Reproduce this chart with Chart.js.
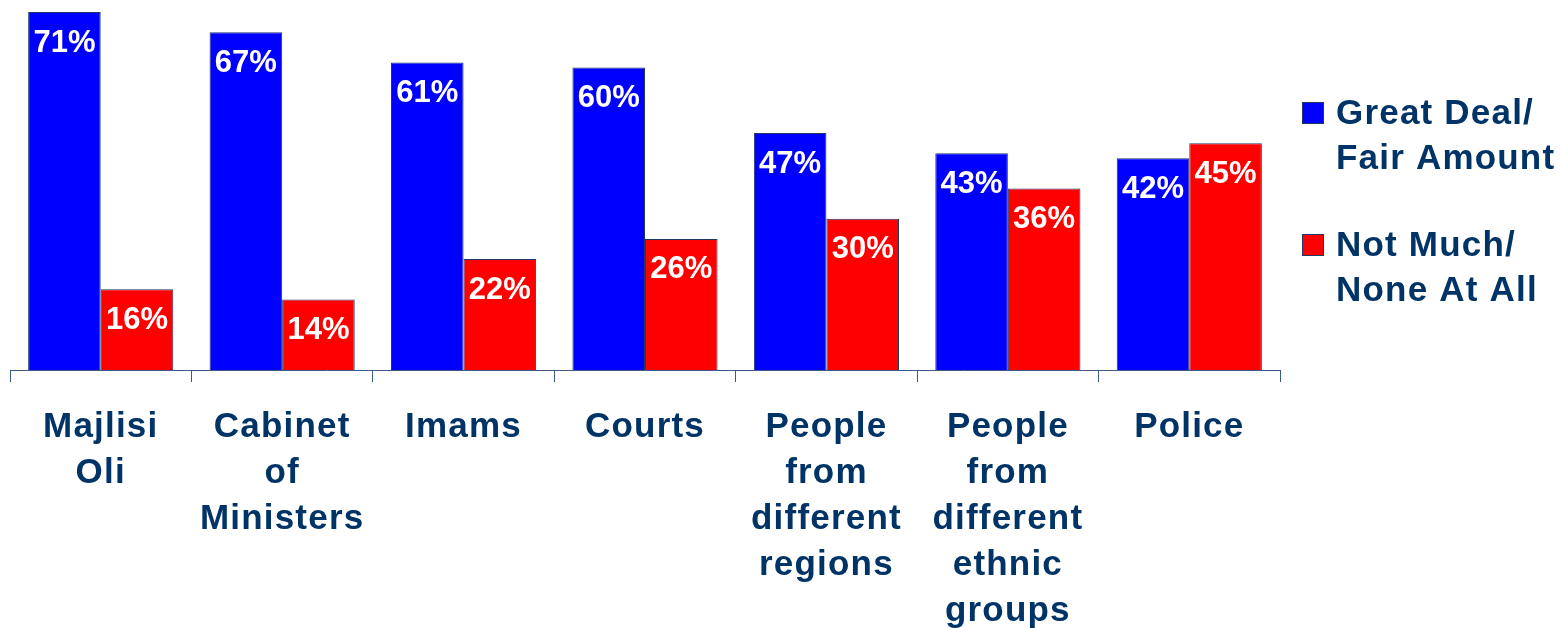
<!DOCTYPE html>
<html>
<head>
<meta charset="utf-8">
<script src="https://cdn.jsdelivr.net/npm/chart.js@4/dist/chart.umd.min.js"></script>
<style>
html,body{margin:0;padding:0;background:#fff;}
#wrap{width:1560px;height:628px;position:relative;}
</style>
</head>
<body>
<div id="wrap"><canvas id="c" width="1560" height="628"></canvas></div>
<script>
const categories = [
  ["Majlisi","Oli"],
  ["Cabinet","of","Ministers"],
  ["Imams"],
  ["Courts"],
  ["People","from","different","regions"],
  ["People","from","different","ethnic","groups"],
  ["Police"]
];
const greatDeal = [71, 67, 61, 60, 47, 43, 42];
const notMuch = [16, 14, 22, 26, 30, 36, 45];
const seriesLabels = [["Great Deal/","Fair Amount"],["Not Much/","None At All"]];

const NAVY = '#003366';
const FONT = '"Liberation Sans", Arial, sans-serif';

const spacing = {
  id: 'spacing',
  beforeDraw(chart) { chart.ctx.letterSpacing = '1.2px'; }
};

const valueLabels = {
  id: 'valueLabels',
  afterDatasetsDraw(chart) {
    const ctx = chart.ctx;
    ctx.save();
    ctx.letterSpacing = '0px';
    ctx.fillStyle = '#ffffff';
    ctx.font = 'bold 31px ' + FONT;
    ctx.textAlign = 'center';
    ctx.textBaseline = 'middle';
    chart.data.datasets.forEach((ds, di) => {
      chart.getDatasetMeta(di).data.forEach((bar, i) => {
        ctx.fillText(ds.data[i] + '%', bar.x, bar.y + 31);
      });
    });
    ctx.restore();
  }
};

const sideLegend = {
  id: 'sideLegend',
  afterDraw(chart) {
    const ctx = chart.ctx;
    ctx.save();
    ctx.letterSpacing = '1.2px';
    ctx.font = 'bold 35px ' + FONT;
    ctx.textBaseline = 'middle';
    ctx.textAlign = 'left';
    const tops = [102, 234];
    chart.data.datasets.forEach((ds, di) => {
      const y = tops[di];
      ctx.fillStyle = ds.backgroundColor;
      ctx.fillRect(1302, y, 22, 22);
      ctx.strokeStyle = '#1f3864';
      ctx.lineWidth = 1;
      ctx.strokeRect(1302.5, y + 0.5, 21, 21);
      ctx.fillStyle = NAVY;
      ds.label.forEach((line, li) => {
        ctx.fillText(line, 1336, y + 12 + li * 45);
      });
    });
    ctx.restore();
  }
};

new Chart(document.getElementById('c'), {
  type: 'bar',
  data: {
    labels: categories,
    datasets: [
      { label: seriesLabels[0], data: greatDeal, backgroundColor: '#0000ff', borderColor: '#1f3864', borderWidth: 1 },
      { label: seriesLabels[1], data: notMuch, backgroundColor: '#ff0000', borderColor: '#1f3864', borderWidth: 1 }
    ]
  },
  options: {
    responsive: false,
    animation: false,
    devicePixelRatio: 1,
    layout: { padding: { left: 10, right: 280, top: 0, bottom: 0 } },
    plugins: { legend: { display: false }, tooltip: { enabled: false } },
    datasets: { bar: { barPercentage: 1.0, categoryPercentage: 0.8 } },
    scales: {
      y: { display: false, min: 0, max: 73.4 },
      x: {
        afterFit(scale) { scale.height = 258; },
        border: { display: true, color: '#3b5b85', width: 1 },
        grid: { display: true, drawOnChartArea: false, drawTicks: true, tickLength: 12, color: '#3b5b85', offset: true },
        ticks: {
          color: NAVY,
          font: { family: FONT, size: 35, weight: 'bold', lineHeight: 46/35 },
          padding: 22,
          maxRotation: 0,
          autoSkip: false
        }
      }
    }
  },
  plugins: [spacing, valueLabels, sideLegend]
});
</script>
</body>
</html>
